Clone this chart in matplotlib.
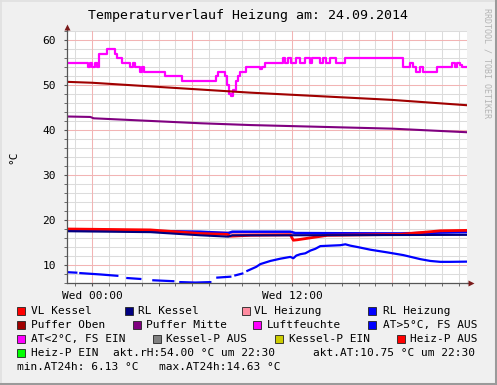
import matplotlib
matplotlib.use("Agg")
import matplotlib.pyplot as plt
import numpy as np
from matplotlib.patches import Rectangle
from matplotlib.lines import Line2D
from matplotlib.ticker import MultipleLocator, FixedLocator

W, H = 497, 385
MONO = "DejaVu Sans Mono"

# hours relative to Wed 00:00 (window 22:30 .. 22:30)
hum_t = [-1.48, -0.22, -0.10, 0.02, 0.20, 0.32, 0.44, 0.92, 1.40, 1.52, 1.82, 2.30, 2.48,
         2.60, 2.90, 3.02, 3.14, 4.40, 5.42, 7.46, 7.58, 8.00, 8.12, 8.24, 8.36, 8.48, 8.66,
         8.78, 8.90, 9.26, 10.10, 10.22, 10.40, 11.48, 11.60, 11.78, 11.96, 12.26, 12.50,
         12.80, 13.10, 13.22, 13.70, 13.88, 14.06, 14.30, 14.66, 15.20, 18.68, 19.10, 19.28,
         19.46, 19.70, 19.88, 20.72, 21.50, 21.62, 21.80, 21.92, 22.10, 22.22, 22.52]
hum_v = [55, 54, 55, 54, 55, 54, 57, 58, 57, 56, 55, 54, 55,
         54, 53, 54, 53, 52, 51, 52, 53, 52, 50, 48, 47.5, 49, 51,
         52, 53, 54, 53.5, 54, 55, 56, 55, 56, 55, 56, 55,
         56, 55, 56, 55, 56, 55, 56, 55, 56, 54, 55, 54,
         53, 54, 53, 54, 54, 55, 54, 55, 54.5, 54, 54]

oben_t = [-1.48, 0.0, 9.5, 17.96, 22.52]
oben_v = [50.7, 50.5, 48.3, 46.7, 45.5]

mitte_t = [-1.48, -0.10, 0.10, 6.5, 9.5, 18.0, 22.52]
mitte_v = [43.0, 42.9, 42.6, 41.5, 41.1, 40.3, 39.5]

vlh_t = [-1.48, 6.5, 11.9, 18.5, 22.52]
vlh_v = [17.9, 17.2, 17.0, 17.0, 17.5]

vlk_t = [-1.48, 3.5, 6.5, 8.12, 8.30, 9.5, 11.9, 12.08, 12.32, 14.12, 18.5, 20.9, 22.52]
vlk_v = [18.0, 17.8, 17.0, 16.8, 16.4, 16.6, 16.7, 15.5, 15.6, 16.6, 16.8, 17.6, 17.7]

rlk_t = [-1.48, 3.5, 6.5, 8.18, 8.42, 11.9, 22.52]
rlk_v = [17.5, 17.3, 16.6, 16.3, 16.6, 16.6, 16.7]

rlh_t = [-1.48, 6.5, 8.18, 8.42, 11.9, 12.2, 18.5, 20.9, 22.52]
rlh_v = [17.8, 17.4, 17.1, 17.4, 17.4, 17.1, 17.0, 17.2, 17.3]

# outside temperature, NaN = missing samples
at_t = [-1.48, -0.94, -0.82, -0.70, 0.50, 1.52, 1.82, 2.12, 2.90, 3.30, 3.68, 4.88, 5.10,
        5.30, 6.20, 7.10, 7.30, 7.52, 8.30, 8.45, 8.60, 9.02, 9.17, 9.32, 9.86, 10.10,
        10.70, 11.30, 11.90, 12.08, 12.26, 12.50, 12.80, 13.10, 13.40, 13.70, 14.30, 14.90,
        15.20, 15.50, 15.92, 16.70, 17.72, 18.68, 19.70, 20.30, 20.90, 21.50, 22.52]
at_v = [8.4, 8.3, np.nan, 8.2, 7.9, 7.6, np.nan, 7.1, 6.9, np.nan, 6.6, 6.4, np.nan,
        6.2, 6.1, 6.2, np.nan, 7.2, 7.4, np.nan, 7.7, 8.1, np.nan, 8.7, 9.6, 10.2,
        10.9, 11.4, 11.8, 11.5, 12.1, 12.4, 12.6, 13.2, 13.6, 14.2, 14.3, 14.4,
        14.6, 14.3, 14.0, 13.4, 12.8, 12.2, 11.3, 10.9, 10.7, 10.7, 10.75]

legend_rows = [
    [("#ff0000", "VL Kessel", 17, 31), ("#000080", "RL Kessel", 125, 138),
     ("#ff8ca0", "VL Heizung", 242, 254), ("#0000ff", "RL Heizung", 368, 383)],
    [("#a00000", "Puffer Oben", 17, 31), ("#800080", "Puffer Mitte", 133, 146),
     ("#ff00ff", "Luftfeuchte", 253, 267), ("#0000ff", "AT>5°C, FS AUS", 368, 383)],
    [("#ff00ff", "AT<2°C, FS EIN", 17, 31), ("#808080", "Kessel-P AUS", 153, 166),
     ("#cccc00", "Kessel-P EIN", 275, 289), ("#ff0000", "Heiz-P AUS", 397, 410)],
    [("#00ff00", "Heiz-P EIN", 17, 31)],
]
info_texts = [("akt.rH:54.00 °C um 22:30", 113, 353), ("akt.AT:10.75 °C um 22:30", 313, 353),
              ("min.AT24h: 6.13 °C", 17, 367), ("max.AT24h:14.63 °C", 159, 367)]


def fx(x):
    return x / W


def fy(y):
    return 1 - y / H


fig = plt.figure(figsize=(W / 100, H / 100), dpi=100, facecolor="#f0f0f0")
ax = fig.add_axes([fx(67), fy(283), 400 / W, 252 / H])
ax.set_facecolor("white")
ax.set_xlim(-1.5, 22.5)
ax.set_ylim(6, 62)

ax.xaxis.set_major_locator(FixedLocator([0, 12]))
ax.xaxis.set_minor_locator(MultipleLocator(1))
ax.set_xticklabels(["Wed 00:00", "Wed 12:00"])
ax.yaxis.set_major_locator(MultipleLocator(10))
ax.yaxis.set_minor_locator(MultipleLocator(2))

ax.grid(which="minor", color="#dcdcdc", lw=0.75)
for h in [0, 6, 12, 18]:
    ax.axvline(h, color="#f2b4b4", lw=0.75, zorder=0.6)
for v in range(10, 61, 10):
    ax.axhline(v, color="#f2b4b4", lw=0.75, zorder=0.6)
ax.set_axisbelow(True)

ax.plot(hum_t, hum_v, color="#ff00ff", lw=1.6, drawstyle="steps-post")
ax.plot(oben_t, oben_v, color="#a00000", lw=1.5)
ax.plot(mitte_t, mitte_v, color="#800080", lw=1.5)
ax.plot(vlh_t, vlh_v, color="#ff8ca0", lw=2.0)
ax.plot(rlh_t, rlh_v, color="#0000ff", lw=1.8)
ax.plot(vlk_t, vlk_v, color="#ff0000", lw=2.0)
ax.plot(rlk_t, rlk_v, color="#000080", lw=1.5)
ax.plot(at_t, at_v, color="#0000ff", lw=1.6)

for s in ["top", "right"]:
    ax.spines[s].set_visible(False)
for s in ["left", "bottom"]:
    ax.spines[s].set_color("#555555")
    ax.spines[s].set_linewidth(0.9)
ax.tick_params(which="both", length=2, color="#555555", labelsize=8, pad=6)
ax.tick_params(axis="x", pad=4)
for lab in ax.get_xticklabels() + ax.get_yticklabels():
    lab.set_family(MONO)

# axis extensions with arrow heads
fig.add_artist(Line2D([fx(467), fx(470)], [fy(283), fy(283)], color="#555555", lw=0.9))
fig.add_artist(Line2D([fx(67), fx(67)], [fy(31), fy(28)], color="#555555", lw=0.9))
fig.add_artist(Line2D([fx(471)], [fy(283)], marker=">", ms=5, color="#7a1a1a", mec="none"))
fig.add_artist(Line2D([fx(67)], [fy(27)], marker="^", ms=5, color="#7a1a1a", mec="none"))

fig.text(fx(248), fy(16), "Temperaturverlauf Heizung am: 24.09.2014", family=MONO,
         fontsize=9.5, ha="center", va="center")
fig.text(fx(13), fy(157), "°C", family=MONO, fontsize=8, rotation=90, ha="center", va="center")
fig.text(fx(487), fy(8), "RRDTOOL / TOBI OETIKER", family=MONO, fontsize=6, rotation=270,
         ha="center", va="top", color="#b4b4b4")

row_y = [311, 325, 339, 353]
for y, row in zip(row_y, legend_rows):
    for color, label, sx, tx in row:
        fig.add_artist(Rectangle((fx(sx), fy(y + 4)), 8 / W, 8 / H, facecolor=color,
                                 edgecolor="#222222", lw=0.6))
        fig.text(fx(tx), fy(y), label, family=MONO, fontsize=8, va="center", ha="left")
for txt, x, y in info_texts:
    fig.text(fx(x), fy(y), txt, family=MONO, fontsize=8, va="center", ha="left")

# 3d frame
fig.add_artist(Line2D([0, 1], [fy(0.5), fy(0.5)], color="#e0e0e0", lw=1.2))
fig.add_artist(Line2D([fx(0.5), fx(0.5)], [0, 1], color="#e0e0e0", lw=1.2))
fig.add_artist(Line2D([fx(W - 1.5), fx(W - 1.5)], [0, 1], color="#9a9a9a", lw=2.2))
fig.add_artist(Line2D([0, 1], [fy(H - 1.5), fy(H - 1.5)], color="#9a9a9a", lw=2.2))

fig.savefig("out.png", dpi=100, facecolor=fig.get_facecolor())
